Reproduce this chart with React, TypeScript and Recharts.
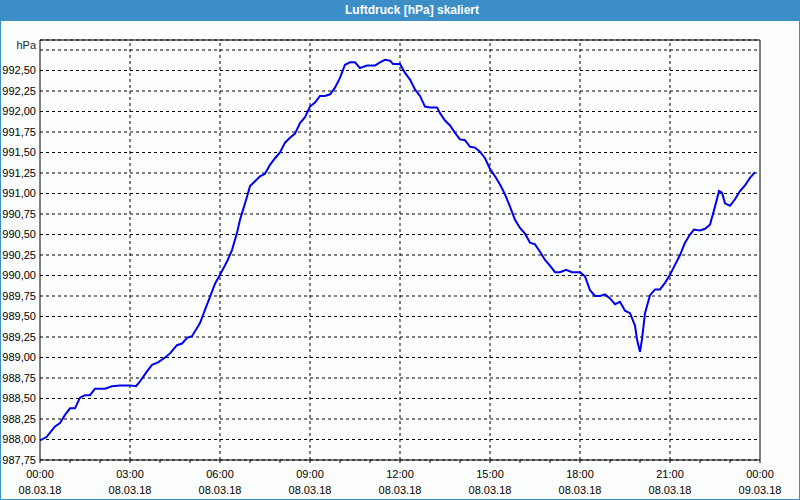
import React from 'react';
import { LineChart, Line, XAxis, YAxis, CartesianGrid, ReferenceLine } from 'recharts';

const title = 'Luftdruck [hPa] skaliert';
const unitLabel = 'hPa';

// time in minutes since 08.03.18 00:00
const minutes = [
  0, 13, 30, 40, 50, 60, 70, 80, 90, 100, 110, 130, 144, 160, 180, 192, 200, 214, 224, 236,
  250, 260, 274, 284, 294, 304, 314, 320, 330, 340, 350, 360, 374, 384, 394, 400, 406, 414, 420, 430,
  440, 450, 460, 470, 480, 490, 500, 510, 520, 530, 540, 550, 560, 570, 580, 590, 600, 610, 620, 630,
  640, 654, 670, 680, 690, 700, 706, 720, 730, 740, 750, 760, 770, 780, 794, 800, 810, 820, 830, 840,
  850, 860, 870, 880, 890, 900, 910, 920, 930, 940, 950, 960, 970, 980, 990, 1000, 1010, 1020, 1030, 1040,
  1052, 1064, 1080, 1090, 1100, 1110, 1120, 1130, 1140, 1150, 1160, 1170, 1180, 1190, 1194, 1200, 1204, 1210, 1220, 1230,
  1240, 1250, 1260, 1270, 1280, 1290, 1300, 1308, 1320, 1330, 1340, 1350, 1358, 1364, 1370, 1380, 1390, 1400, 1410, 1420,
  1430,
];

const pressure = [
  987.99, 988.03, 988.16, 988.2, 988.3, 988.38, 988.38, 988.51, 988.54, 988.54, 988.62, 988.62, 988.65, 988.66, 988.66, 988.65, 988.71, 988.83, 988.91, 988.94,
  989.0, 989.05, 989.15, 989.17, 989.24, 989.26, 989.36, 989.42, 989.58, 989.74, 989.9, 990.01, 990.17, 990.31, 990.52, 990.68, 990.8, 990.96, 991.09, 991.15,
  991.21, 991.24, 991.35, 991.43, 991.5, 991.62, 991.68, 991.73, 991.86, 991.93, 992.06, 992.11, 992.19, 992.19, 992.21, 992.29, 992.41, 992.57, 992.6, 992.6,
  992.53, 992.56, 992.56, 992.6, 992.63, 992.62, 992.58, 992.58, 992.47, 992.39, 992.27, 992.19, 992.06, 992.05, 992.05, 991.98, 991.89, 991.83, 991.74, 991.66,
  991.65, 991.57, 991.56, 991.51, 991.43, 991.3, 991.21, 991.11, 990.99, 990.84, 990.68, 990.58, 990.51, 990.4, 990.38, 990.29, 990.19, 990.12, 990.04, 990.04,
  990.07, 990.04, 990.04, 989.99, 989.82, 989.75, 989.75, 989.77, 989.72, 989.65, 989.68, 989.57, 989.54, 989.39, 989.22, 989.07, 989.22, 989.54, 989.76, 989.83,
  989.83, 989.91, 990.01, 990.13, 990.25, 990.4, 990.5, 990.56, 990.55, 990.57, 990.62, 990.84, 991.03, 991.01, 990.88, 990.85, 990.93, 991.03, 991.1, 991.19,
  991.26,
];

const yTicks = [
  987.75, 988.0, 988.25, 988.5, 988.75, 989.0, 989.25, 989.5, 989.75, 990.0, 990.25,
  990.5, 990.75, 991.0, 991.25, 991.5, 991.75, 992.0, 992.25, 992.5, 992.75,
];
const Y_MIN = 987.75;
const Y_MAX = 992.872;
const UNIT_TICK = 992.75; // top grid line carries the unit instead of a number

const xTickMinutes = [
  0, 60, 120, 180, 240, 300, 360, 420, 480, 540, 600, 660, 720, 780, 840, 900, 960, 1020,
  1080, 1140, 1200, 1260, 1320, 1380, 1440,
];
const xLabelMinutes = [0, 180, 360, 540, 720, 900, 1080, 1260, 1440];
const timeLabels = ['00:00', '03:00', '06:00', '09:00', '12:00', '15:00', '18:00', '21:00', '00:00'];
const dateLabels = ['08.03.18', '08.03.18', '08.03.18', '08.03.18', '08.03.18', '08.03.18', '08.03.18', '08.03.18', '09.03.18'];

const data = minutes.map((m, i) => ({ t: m, p: pressure[i] }));

const FONT = '"Liberation Sans", Arial, sans-serif';
const FRAME = '#3c8ec7';

const XTick = (props: any) => {
  const { x, y, payload } = props;
  const idx = xLabelMinutes.indexOf(payload.value);
  return (
    <g>
      <line x1={x} x2={x} y1={y} y2={y + 3} stroke="#000" />
      {idx >= 0 && (
        <>
          <text x={x} y={y + 18} textAnchor="middle" fontSize={11} fontFamily={FONT} fill="#000">
            {timeLabels[idx]}
          </text>
          <text x={x} y={y + 34} textAnchor="middle" fontSize={11} fontFamily={FONT} fill="#000">
            {dateLabels[idx]}
          </text>
        </>
      )}
    </g>
  );
};

const YTick = (props: any) => {
  const { x, y, payload } = props;
  const isUnit = payload.value === UNIT_TICK;
  return (
    <text
      x={x}
      y={isUnit ? y - 5 : y}
      dy="0.355em"
      textAnchor="end"
      fontSize={11}
      fontFamily={FONT}
      fill={isUnit ? '#222' : '#000'}
    >
      {isUnit ? unitLabel : payload.value.toFixed(2).replace('.', ',')}
    </text>
  );
};

export default function App() {
  return (
    <div style={{ position: 'absolute', left: 0, top: 0, width: 800, height: 500, background: '#fcfefd', fontFamily: FONT }}>
      <LineChart width={800} height={500} data={data} margin={{ top: 40, right: 40, bottom: 0, left: 0 }}>
        <CartesianGrid vertical={false} stroke="#000" strokeDasharray="3 3" />
        <XAxis
          dataKey="t"
          type="number"
          domain={[0, 1440]}
          ticks={xTickMinutes}
          interval={0}
          height={40}
          tickSize={0}
          tickMargin={0}
          tickLine={false}
          axisLine={{ stroke: '#000' }}
          tick={<XTick />}
        />
        <YAxis
          type="number"
          domain={[Y_MIN, Y_MAX]}
          ticks={yTicks}
          interval={0}
          width={40}
          tickSize={3}
          tickMargin={1}
          tickLine={false}
          axisLine={{ stroke: '#000' }}
          allowDataOverflow
          tick={<YTick />}
        />
        {xLabelMinutes.slice(1, -1).map((m) => (
          <ReferenceLine key={m} x={m} stroke="#000" strokeDasharray="3 3" />
        ))}
        <ReferenceLine x={1440} stroke="#000" />
        <ReferenceLine y={Y_MAX} stroke="#000" />
        <Line type="linear" dataKey="p" stroke="#0000f0" strokeWidth={2} dot={false} isAnimationActive={false} />
      </LineChart>
      <div
        style={{
          position: 'absolute', left: 0, top: 0, width: 800, height: 21, background: FRAME,
          color: '#fff', fontWeight: 'bold', fontSize: 12, lineHeight: '21px', textAlign: 'center',
          boxSizing: 'border-box', paddingLeft: 24,
        }}
      >
        {title}
      </div>
      <div
        style={{
          position: 'absolute', left: 0, top: 0, width: 800, height: 500, boxSizing: 'border-box',
          border: `1px solid ${FRAME}`, pointerEvents: 'none',
        }}
      />
    </div>
  );
}
